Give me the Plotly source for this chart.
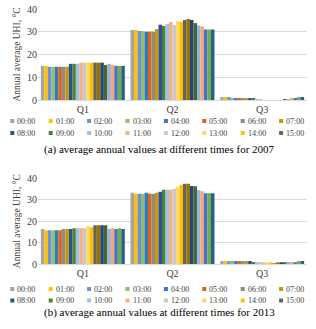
import plotly.graph_objects as go

categories = ["Q1", "Q2", "Q3"]
hours = [f"{h:02d}:00" for h in range(24)]

colors = ["#A5A5A5", "#FFC000", "#6F8FD6", "#8CC168", "#3178C6", "#DD6411",
          "#8C8C8C", "#C99A00", "#2C4F9C", "#4E8233", "#9DC3E6", "#F4B183",
          "#C9C9C9", "#FFD966", "#FFC000", "#636363", "#997300", "#264478",
          "#43682B", "#8FB4E0", "#F4A57A", "#4472C4", "#70AD47", "#255E91"]

q1_2007 = [15.0, 15.0, 14.6, 14.6, 14.6, 14.6, 14.6, 14.6, 15.9, 15.9, 15.9, 16.4,
           16.4, 16.4, 16.4, 16.4, 16.4, 16.4, 15.4, 15.9, 15.4, 15.0, 15.0, 15.0]
q2_2007 = [30.8, 30.8, 30.3, 30.3, 30.0, 30.0, 30.0, 31.2, 33.1, 32.5, 33.4, 34.3,
           33.0, 34.7, 34.3, 35.2, 35.6, 35.2, 33.8, 32.8, 32.3, 31.0, 31.0, 31.0]
q3_2007 = [1.3, 1.3, 1.3, 0.9, 0.9, 0.9, 0.9, 0.9, 0.9, 0.9, 0.4, 0.4,
           0.0, 0.0, 0.0, 0.0, 0.0, 0.0, 0.4, 0.3, 0.9, 0.9, 1.3, 1.3]

q1_2013 = [16.3, 15.8, 15.8, 15.8, 15.8, 15.8, 16.3, 16.3, 16.3, 16.7, 16.7, 16.7,
           16.7, 17.7, 17.2, 18.1, 18.1, 18.1, 18.1, 16.3, 16.7, 16.3, 16.7, 16.3]
q2_2013 = [33.3, 32.8, 32.8, 32.8, 33.3, 32.8, 32.8, 33.3, 33.7, 34.7, 34.7, 34.7,
           35.1, 36.0, 37.0, 37.4, 37.4, 36.4, 36.3, 34.4, 34.0, 33.0, 33.0, 33.0]
q3_2013 = [1.4, 1.4, 1.4, 1.4, 1.4, 1.4, 1.4, 1.4, 1.4, 0.9, 0.9, 0.5,
           0.5, 0.5, 0.5, 0.3, 0.5, 0.5, 0.5, 0.9, 0.9, 0.5, 1.4, 1.4]

y_ticks = [0, 10, 20, 30, 40]
captions = ["(a) average annual values at different times for 2007",
            "(b) average annual values at different times for 2013"]
y_title = "Annual average UHI, °C"

FONT = "Liberation Serif, Times New Roman, serif"
WIDTH, HEIGHT = 316, 329
# plot area in window pixels: x 38..307, y 9..264
L, T = 38, 9
R = WIDTH - 307
B = HEIGHT - 264
PW = WIDTH - L - R
PH = HEIGHT - T - B


def px2x(px):
    return (px - L) / PW


def py2y(py):
    return (HEIGHT - B - py) / PH


fig = go.Figure()
datasets = [(q1_2007, q2_2007, q3_2007), (q1_2013, q2_2013, q3_2013)]
for k, (a, b, c) in enumerate(datasets):
    for i, h in enumerate(hours):
        fig.add_trace(go.Bar(
            x=categories, y=[a[i], b[i], c[i]], name=h,
            marker=dict(color=colors[i], line=dict(width=0)),
            xaxis="x" if k == 0 else "x2", yaxis="y" if k == 0 else "y2",
            offsetgroup=str(i), showlegend=False))

axis_common = dict(
    tickfont=dict(family=FONT, size=10, color="#404040"),
)
title_font = dict(family=FONT, size=9.5, color="#404040")
fig.update_layout(
    width=WIDTH, height=HEIGHT,
    margin=dict(l=L, r=R, t=T, b=B, autoexpand=False),
    paper_bgcolor="white", plot_bgcolor="white",
    barmode="group", bargap=0.064, bargroupgap=0,
    showlegend=False,
    font=dict(family=FONT, color="#404040"),
    xaxis=dict(domain=[0, 1], anchor="y", showgrid=False, showline=True,
               linecolor="#D9D9D9", linewidth=1, ticks="", **axis_common),
    yaxis=dict(domain=[py2y(100), 1], anchor="x", range=[0, 40], tickvals=y_ticks,
               showgrid=True, gridcolor="#D9D9D9", gridwidth=1, zeroline=False,
               showline=False, ticks="",
               title=dict(text=y_title, font=title_font, standoff=4),
               **axis_common),
    xaxis2=dict(domain=[0, 1], anchor="y2", showgrid=False, showline=True,
                linecolor="#D9D9D9", linewidth=1, ticks="", **axis_common),
    yaxis2=dict(domain=[0, py2y(178.3)], anchor="x2", range=[0, 40], tickvals=y_ticks,
                showgrid=True, gridcolor="#D9D9D9", gridwidth=1, zeroline=False,
                showline=False, ticks="",
                title=dict(text=y_title, font=title_font, standoff=4),
                **axis_common),
)

# Legend (first 16 entries, two rows of eight) for each panel
legend_rows = [(121, 133), (289, 300.5)]
caption_y = [149, 312]
for k in range(2):
    for i in range(16):
        row, col = divmod(i, 8)
        mx = 10.3 + 38.4 * col
        my = legend_rows[k][row]
        fig.add_shape(type="rect", xref="paper", yref="paper",
                      x0=px2x(mx), x1=px2x(mx + 4), y0=py2y(my + 2), y1=py2y(my - 2),
                      fillcolor=colors[i], line=dict(width=0))
        fig.add_annotation(text=hours[i], xref="paper", yref="paper",
                           x=px2x(mx + 5), y=py2y(my), xanchor="left", yanchor="middle",
                           showarrow=False, font=dict(family=FONT, size=8, color="#404040"))
    fig.add_annotation(text=captions[k], xref="paper", yref="paper",
                       x=px2x(159), y=py2y(caption_y[k]), xanchor="center", yanchor="middle",
                       showarrow=False, font=dict(family=FONT, size=11, color="black"))

# remove the browser's default 8px page margin so the figure fills the window
fig.write_html("out.html", config={"displayModeBar": False},
               post_script="document.body.style.margin='0';document.body.style.overflow='hidden';")
